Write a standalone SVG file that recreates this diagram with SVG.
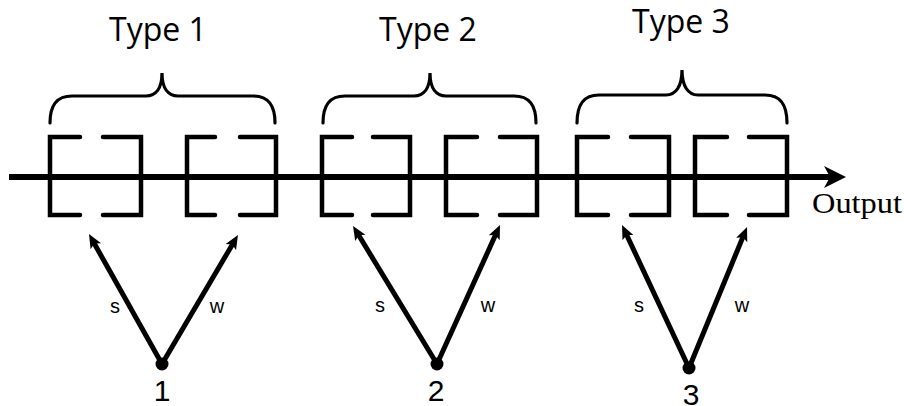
<svg xmlns="http://www.w3.org/2000/svg" width="904" height="406" viewBox="0 0 904 406">
<style>
.brk{fill:none;stroke:#000;stroke-width:4.5;stroke-linecap:round;stroke-linejoin:miter}
.brace{fill:none;stroke:#000;stroke-width:3.2;stroke-linecap:round}
.typ{font-family:"Open Sans","Liberation Sans",sans-serif;font-size:32px;fill:#000;text-anchor:middle}
.lab{font-family:"Liberation Sans",Arial,sans-serif;font-size:20px;fill:#000;text-anchor:middle}
.num{font-family:"Liberation Sans",Arial,sans-serif;font-size:30px;fill:#000;text-anchor:middle}
.arr{stroke:#000;stroke-width:5;fill:none;marker-end:url(#ah)}
</style>
<defs>
<marker id="ah" markerUnits="userSpaceOnUse" markerWidth="16" markerHeight="14" viewBox="0 0 16 14" refX="6" refY="7" orient="auto">
<path d="M0,1 L14,7 L0,13 L3,7 z" fill="#000"/>
</marker>
</defs>
<rect width="904" height="406" fill="#fff"/>

<g id="connectors">
<line x1="9" y1="177" x2="832" y2="177" stroke="#000" stroke-width="6"/>
<polygon points="846,177 824,166 830,177 824,188" fill="#000"/>
<line class="arr" x1="162" y1="364" x2="92.9" y2="241"/>
<line class="arr" x1="162" y1="364" x2="233.9" y2="241.9"/>
<line class="arr" x1="437" y1="364" x2="357.2" y2="232.8"/>
<line class="arr" x1="437" y1="364" x2="496.7" y2="232.3"/>
<line class="arr" x1="689" y1="368" x2="625.4" y2="232.2"/>
<line class="arr" x1="689" y1="368" x2="744" y2="234.4"/>
<text class="lab" x="115" y="313">s</text>
<text class="lab" x="217" y="313">w</text>
<text class="lab" x="380" y="312">s</text>
<text class="lab" x="488" y="312">w</text>
<text class="lab" x="639" y="312">s</text>
<text class="lab" x="742" y="312">w</text>
<text x="812" y="213" font-family="'Liberation Serif','Times New Roman',serif" font-size="30" textLength="90" lengthAdjust="spacingAndGlyphs">Output</text>
</g>

<g id="type1">
<text class="typ" x="158" y="41">Type 1</text>
<path class="brace" d="M50,123 C50,106 56,96 72,96 L146,96 C156,96 162,88 162,73 C162,88 168,96 178,96 L253,96 C269,96 275,106 275,123"/>
<path class="brk" d="M80,137 H50 V215 H80"/>
<path class="brk" d="M103,137 H141 V215 H103"/>
<path class="brk" d="M215,137 H187 V215 H215"/>
<path class="brk" d="M240,137 H276 V215 H240"/>
</g>

<g id="type2">
<text class="typ" x="428" y="41">Type 2</text>
<path class="brace" d="M323,123 C323,106 329,96 345,96 L414,96 C424,96 430,88 430,73 C430,88 436,96 446,96 L514,96 C530,96 536,106 536,123"/>
<path class="brk" d="M352,137 H322 V215 H352"/>
<path class="brk" d="M373,137 H410 V215 H373"/>
<path class="brk" d="M477,137 H446 V215 H477"/>
<path class="brk" d="M500,137 H537 V215 H500"/>
</g>

<g id="type3">
<text class="typ" x="681" y="33">Type 3</text>
<path class="brace" d="M577,123 C577,105 583,95 599,95 L666,95 C676,95 682,86 682,70 C682,86 688,95 698,95 L765,95 C781,95 787,105 787,123"/>
<path class="brk" d="M608,137 H577 V215 H608"/>
<path class="brk" d="M631,137 H669 V215 H631"/>
<path class="brk" d="M727,137 H695 V215 H727"/>
<path class="brk" d="M749,137 H787 V215 H749"/>
</g>

<g id="node1">
<circle cx="162" cy="364" r="6.5" fill="#000"/>
<text class="num" x="162" y="401">1</text>
</g>
<g id="node2">
<circle cx="437" cy="364" r="6.5" fill="#000"/>
<text class="num" x="436" y="401">2</text>
</g>
<g id="node3">
<circle cx="689" cy="368" r="6.5" fill="#000"/>
<text class="num" x="691" y="405">3</text>
</g>
</svg>
